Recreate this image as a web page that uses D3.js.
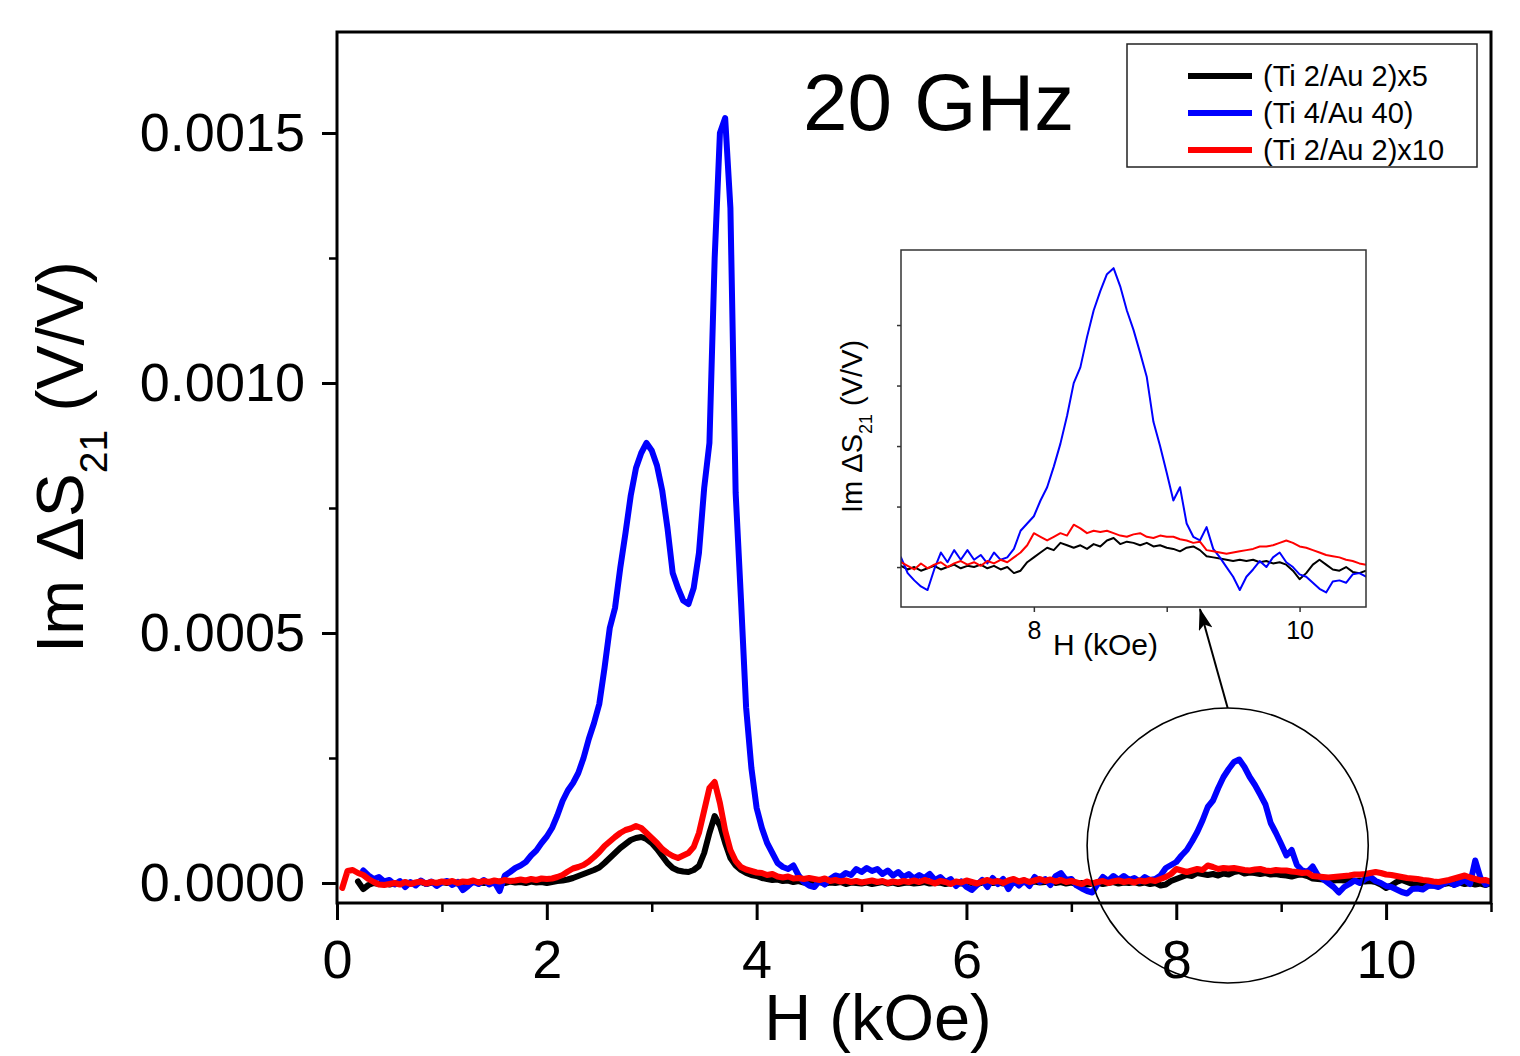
<!DOCTYPE html>
<html>
<head>
<meta charset="utf-8">
<script src="https://cdn.jsdelivr.net/npm/d3@7"></script>
<style>
  html, body { margin: 0; padding: 0; background: #fff; }
  svg { display: block; font-family: "Liberation Sans", Arial, sans-serif; }
</style>
</head>
<body>
<svg id="chart" width="1520" height="1056"></svg>
<script>
// field values (kOe)
const H = [
  0.05,0.1,0.15,0.2,0.25,0.3,0.35,0.4,0.45,0.5,
  0.55,0.6,0.65,0.7,0.75,0.8,0.85,0.9,0.95,1.0,
  1.05,1.1,1.15,1.2,1.25,1.3,1.35,1.4,1.45,1.5,
  1.55,1.6,1.65,1.7,1.75,1.8,1.85,1.9,1.95,2.0,
  2.05,2.1,2.15,2.2,2.25,2.3,2.35,2.4,2.45,2.5,
  2.55,2.6,2.65,2.7,2.75,2.8,2.85,2.9,2.95,3.0,
  3.05,3.1,3.15,3.2,3.25,3.3,3.35,3.4,3.45,3.5,
  3.55,3.6,3.65,3.7,3.75,3.8,3.85,3.9,3.95,4.0,
  4.05,4.1,4.15,4.2,4.25,4.3,4.35,4.4,4.45,4.5,
  4.55,4.6,4.65,4.7,4.75,4.8,4.85,4.9,4.95,5.0,
  5.05,5.1,5.15,5.2,5.25,5.3,5.35,5.4,5.45,5.5,
  5.55,5.6,5.65,5.7,5.75,5.8,5.85,5.9,5.95,6.0,
  6.05,6.1,6.15,6.2,6.25,6.3,6.35,6.4,6.45,6.5,
  6.55,6.6,6.65,6.7,6.75,6.8,6.85,6.9,6.95,7.0,
  7.05,7.1,7.15,7.2,7.25,7.3,7.35,7.4,7.45,7.5,
  7.55,7.6,7.65,7.7,7.75,7.8,7.85,7.9,7.95,8.0,
  8.05,8.1,8.15,8.2,8.25,8.3,8.35,8.4,8.45,8.5,
  8.55,8.6,8.65,8.7,8.75,8.8,8.85,8.9,8.95,9.0,
  9.05,9.1,9.15,9.2,9.25,9.3,9.35,9.4,9.45,9.5,
  9.55,9.6,9.65,9.7,9.75,9.8,9.85,9.9,9.95,10.0,
  10.05,10.1,10.15,10.2,10.25,10.3,10.35,10.4,10.45,10.5,
  10.55,10.6,10.65,10.7,10.75,10.8,10.85,10.9,10.95,11.0
];

// Im dS21 in units of 1e-5 V/V
const blackE5 = [
  null,null,null,0.3,-1.2,-0.4,0.0,-0.2,0.1,-0.3,
  0.0,-0.2,0.1,-0.1,0.0,0.2,-0.2,0.1,-0.1,0.2,
  0.0,0.2,-0.1,0.1,0.0,0.2,0.1,0.0,0.2,0.1,
  0.2,0.0,0.3,0.1,0.2,0.0,0.3,0.1,0.2,0.0,
  0.2,0.4,0.5,0.7,1.0,1.4,1.8,2.2,2.6,3.1,
  4.0,5.0,6.0,7.0,7.8,8.6,9.0,9.2,8.8,8.0,
  6.8,5.4,4.0,3.0,2.5,2.3,2.2,2.6,3.4,6.0,
  10.0,13.4,11.5,8.0,5.0,3.5,2.6,2.0,1.6,1.4,
  1.0,0.8,0.6,0.7,0.4,0.5,0.2,0.4,0.1,0.3,
  0.0,0.2,-0.1,0.1,0.0,0.2,-0.2,0.1,0.0,-0.1,
  0.1,-0.2,0.0,0.2,-0.1,0.1,-0.2,0.0,0.1,-0.1,
  0.0,0.2,-0.1,0.0,0.1,-0.2,0.0,0.1,-0.1,0.2,
  0.0,-0.2,0.1,0.2,0.0,0.1,-0.1,0.2,0.3,0.0,
  0.2,0.0,0.3,0.1,0.2,0.4,0.0,0.2,-0.1,0.1,
  -0.2,0.0,-0.3,-0.1,0.1,-0.2,0.0,0.2,-0.1,0.1,
  0.0,0.2,-0.1,0.1,-0.2,0.0,-0.5,-0.3,0.4,0.8,
  1.2,1.6,1.4,2.0,1.8,1.6,1.8,1.5,1.9,1.7,
  2.2,2.4,1.9,2.1,2.0,1.8,2.0,1.7,1.8,1.6,
  1.5,1.3,1.6,1.7,1.4,0.9,0.8,0.7,0.6,0.5,
  0.6,0.5,0.6,0.4,0.5,0.3,0.4,0.2,-0.3,-1.0,
  -0.5,0.2,0.6,0.2,-0.2,-0.3,0.0,-0.4,-0.5,-0.3,
  -0.2,0.0,-0.3,0.1,-0.2,0.0,-0.3,-0.1,-0.4,0.0
];

const blueE5 = [
  null,null,null,null,2.5,1.5,0.8,1.2,0.3,0.6,
  -0.3,0.4,-0.8,0.2,-0.5,0.5,-0.2,0.3,-0.6,0.1,
  0.4,-0.4,0.2,-1.4,-0.6,0.3,-0.2,0.6,-0.3,0.2,
  -1.6,1.5,2.2,3.0,3.5,4.2,5.5,6.5,8.0,9.3,
  11.0,13.5,16.4,18.5,20.0,22.0,25.0,28.8,32.0,35.8,
  43,51,55,63,70,77.5,83,86,88,86.5,
  83.5,78.5,71,62,59,56.5,55.8,59,66,79,
  88,125,150,153,135,78,57,35,23,15,
  11,8,6,4,3.2,2.8,3.5,1.5,0.2,-0.5,
  -0.8,0.5,-0.3,0.8,1.5,1.2,2.0,1.6,2.8,2.2,
  3.0,2.4,2.8,1.8,2.5,1.5,2.2,1.2,1.8,0.9,
  1.6,1.0,1.8,0.6,1.2,0.2,0.8,-0.6,0.3,-0.8,
  -1.4,-0.4,0.6,-0.8,1.0,-0.2,0.8,-1.2,0.4,-0.5,
  0.5,-0.6,1.2,0.2,0.8,-0.4,1.4,2.0,0.6,0.8,
  -0.5,-1.1,-1.6,-1.9,-0.2,1.2,0.4,1.4,0.6,1.4,
  0.6,1.0,0.3,1.2,0.6,0.8,1.5,3.0,3.6,4.2,
  5.5,6.6,8.3,10.2,12.5,15.2,16.5,19.0,21.2,22.8,
  24.2,24.7,23.2,21.2,19.6,17.7,15.7,12.0,10.0,7.8,
  5.5,6.6,3.6,2.5,2.2,3.3,1.5,0.8,0.0,-0.8,
  -1.9,-0.8,-0.2,0.5,0.0,0.8,1.2,0.4,0.0,-0.6,
  -0.8,-1.3,-1.8,-2.1,-1.2,-1.1,-1.3,-0.6,-0.5,-0.8,
  -0.2,0.4,-0.4,0.0,0.6,-0.2,4.5,1.0,-0.3,0.2
];

const redE5 = [
  -1.0,2.4,2.6,2.0,1.6,0.8,0.2,-0.3,-0.4,-0.2,
  0.0,-0.3,0.2,-0.2,0.1,0.3,-0.1,0.2,0.0,0.3,
  0.1,0.4,0.0,0.3,0.2,0.5,0.1,0.4,0.2,0.5,
  0.3,0.6,0.4,0.5,0.7,0.5,0.8,0.6,0.9,0.8,
  0.9,1.2,1.6,2.3,2.9,3.2,3.6,4.3,5.2,6.2,
  7.4,8.3,9.2,10.0,10.6,10.9,11.4,11.0,10.0,9.0,
  8.0,6.8,6.0,5.4,5.0,5.5,6.0,7.2,10.0,14.5,
  19.0,20.2,16.0,10.5,6.6,4.4,3.2,2.7,2.4,2.1,
  2.0,1.6,1.8,1.3,1.1,1.3,0.9,1.0,0.8,1.0,
  0.8,0.6,0.9,0.4,0.6,0.3,0.5,0.2,0.4,0.1,
  0.3,0.5,0.2,0.4,0.0,0.3,0.1,0.4,0.2,0.5,
  0.2,0.6,0.3,-0.1,0.4,0.2,-0.2,0.3,0.1,0.5,
  0.2,-0.1,0.3,0.6,0.2,0.4,0.0,0.5,0.8,0.3,
  0.6,0.2,0.5,0.8,0.4,0.7,0.3,0.6,0.2,0.4,
  0.1,-0.2,0.3,-0.1,0.2,0.4,0.0,0.3,0.5,0.2,
  0.4,0.1,0.5,0.3,0.6,0.4,0.8,1.2,1.8,2.8,
  2.5,2.2,2.5,2.8,2.6,3.5,3.2,2.8,3.0,2.9,
  3.0,2.8,2.6,2.5,2.7,2.8,2.5,2.4,2.6,2.5,
  2.5,2.3,2.2,2.0,2.1,1.4,1.3,1.2,1.1,1.2,
  1.3,1.4,1.5,1.7,1.7,1.8,2.0,2.2,2.0,1.7,
  1.6,1.4,1.2,1.0,0.9,0.8,0.6,0.5,0.3,0.2,
  0.4,0.6,0.9,1.2,1.5,1.1,0.8,0.5,0.6,0.2
];

const seriesNames = ["(Ti 2/Au 2)x5", "(Ti 4/Au 40)", "(Ti 2/Au 2)x10"];
const seriesColors = ["#000000", "#0000ff", "#ff0000"];
const xTicksMajor = [0, 2, 4, 6, 8, 10];
const xTicksMinor = [1, 3, 5, 7, 9, 11];
const yTicksMajor = [0, 0.0005, 0.0010, 0.0015];
const yTicksMinor = [0.00025, 0.00075, 0.00125];
const insetXTicks = [8, 9, 10];
const insetXLabels = [8, 10];
const insetYTicks = [0, 0.00005, 0.0001, 0.00015, 0.0002];
const E5 = 1e-5;

const svg = d3.select("#chart");
const font = "'Liberation Sans', Arial, sans-serif";

const table = H.map((h, i) => ({h: h, s: [blackE5[i], blueE5[i], redE5[i]]}));

const x = d3.scaleLinear().domain([0, 11]).range([337, 1491]);
const y = d3.scaleLinear().domain([-0.00004, 0.001702]).range([903, 32]);

const xi = d3.scaleLinear().domain([7, 10.5]).range([901, 1366]);
const yi = d3.scaleLinear().domain([-0.000033, 0.000262]).range([607, 250]);

function lineFor(xs, ys, k, lo, hi) {
    return d3.line()
        .defined(d => d.s[k] !== null && d.h >= lo && d.h <= hi)
        .x(d => xs(d.h))
        .y(d => ys(d.s[k] * E5));
}

function styleAxis(g, size) {
    g.select(".domain").remove();
    g.attr("font-family", font).attr("font-size", size);
    g.selectAll("text").attr("fill", "#000");
    g.selectAll("line").attr("stroke", "#000");
}

// clips and arrow marker
const defs = svg.append("defs");
defs.append("clipPath").attr("id", "mainClip")
    .append("rect").attr("x", 337).attr("y", 32).attr("width", 1154).attr("height", 871);
defs.append("clipPath").attr("id", "insetClip")
    .append("rect").attr("x", 901).attr("y", 250).attr("width", 465).attr("height", 357);
defs.append("marker").attr("id", "arrowHead")
    .attr("viewBox", "0 0 22 14").attr("refX", 21).attr("refY", 7)
    .attr("markerWidth", 22).attr("markerHeight", 14)
    .attr("markerUnits", "userSpaceOnUse").attr("orient", "auto")
    .append("path").attr("d", "M0,0 L22,7 L0,14 L5,7 Z").attr("fill", "#000");

// curves
svg.append("g").attr("clip-path", "url(#mainClip)")
    .selectAll("path")
    .data([0, 1, 2])
    .enter().append("path")
        .attr("d", k => lineFor(x, y, k, 0, 11)(table))
        .attr("fill", "none")
        .attr("stroke", k => seriesColors[k])
        .attr("stroke-width", 6)
        .attr("stroke-linejoin", "round")
        .attr("stroke-linecap", "round");

// x axis
svg.append("g")
    .attr("transform", "translate(0,903)")
    .call(d3.axisBottom(x).tickValues(xTicksMajor).tickSize(17).tickPadding(20).tickFormat(d3.format("d")))
    .call(g => styleAxis(g, 54))
    .call(g => g.selectAll("line").attr("stroke-width", 3));
svg.append("g")
    .attr("transform", "translate(0,903)")
    .call(d3.axisBottom(x).tickValues(xTicksMinor).tickSize(9).tickFormat(""))
    .call(g => styleAxis(g, 10))
    .call(g => g.selectAll("line").attr("stroke-width", 2.5));

// y axis
svg.append("g")
    .attr("transform", "translate(337,0)")
    .call(d3.axisLeft(y).tickValues(yTicksMajor).tickSize(15).tickPadding(17).tickFormat(d3.format(".4f")))
    .call(g => styleAxis(g, 54))
    .call(g => g.selectAll("line").attr("stroke-width", 3));
svg.append("g")
    .attr("transform", "translate(337,0)")
    .call(d3.axisLeft(y).tickValues(yTicksMinor).tickSize(8).tickFormat(""))
    .call(g => styleAxis(g, 10))
    .call(g => g.selectAll("line").attr("stroke-width", 2.5));

// frame
svg.append("rect")
    .attr("x", 337).attr("y", 32).attr("width", 1154).attr("height", 871)
    .attr("fill", "none").attr("stroke", "#000").attr("stroke-width", 3);

// axis titles
svg.append("text")
    .attr("x", 878).attr("y", 1040)
    .attr("text-anchor", "middle")
    .attr("font-family", font).attr("font-size", 65)
    .text("H (kOe)");

const yTitle = svg.append("text")
    .attr("transform", "translate(83,653) rotate(-90)")
    .attr("font-family", font).attr("font-size", 66);
yTitle.append("tspan").text("Im \u0394S");
yTitle.append("tspan").attr("font-size", 39).attr("dy", 24).text("21");
yTitle.append("tspan").attr("dy", -24).text(" (V/V)");

// frequency label
svg.append("text")
    .attr("x", 803).attr("y", 130)
    .attr("font-family", font).attr("font-size", 80)
    .text("20 GHz");

// legend
const legend = svg.append("g");
legend.append("rect")
    .attr("x", 1127).attr("y", 44).attr("width", 350).attr("height", 123)
    .attr("fill", "#fff").attr("stroke", "#222").attr("stroke-width", 1.5);
const items = legend.selectAll("g.item")
    .data(seriesNames)
    .enter().append("g")
        .attr("class", "item")
        .attr("transform", (d, i) => `translate(0, ${76 + i * 37})`);
items.append("line")
    .attr("x1", 1188).attr("x2", 1252)
    .attr("stroke", (d, i) => seriesColors[i])
    .attr("stroke-width", 6);
items.append("text")
    .attr("x", 1263).attr("y", 10)
    .attr("font-family", font).attr("font-size", 29)
    .text(d => d);

// inset
const inset = svg.append("g");
inset.append("rect")
    .attr("x", 901).attr("y", 250).attr("width", 465).attr("height", 357)
    .attr("fill", "#fff");
inset.append("g").attr("clip-path", "url(#insetClip)")
    .selectAll("path")
    .data([0, 1, 2])
    .enter().append("path")
        .attr("d", k => lineFor(xi, yi, k, 6.95, 10.55)(table))
        .attr("fill", "none")
        .attr("stroke", k => seriesColors[k])
        .attr("stroke-width", 2)
        .attr("stroke-linejoin", "round");
inset.append("g")
    .attr("transform", "translate(0,607)")
    .call(d3.axisBottom(xi).tickValues(insetXTicks).tickSize(5).tickPadding(9)
        .tickFormat(d => insetXLabels.includes(d) ? d : ""))
    .call(g => styleAxis(g, 25))
    .call(g => g.selectAll("line").attr("stroke", "#333").attr("stroke-width", 1.5));
inset.append("g")
    .attr("transform", "translate(901,0)")
    .call(d3.axisLeft(yi).tickValues(insetYTicks).tickSize(4).tickFormat(""))
    .call(g => styleAxis(g, 10))
    .call(g => g.selectAll("line").attr("stroke", "#333").attr("stroke-width", 1.5));
inset.append("rect")
    .attr("x", 901).attr("y", 250).attr("width", 465).attr("height", 357)
    .attr("fill", "none").attr("stroke", "#333").attr("stroke-width", 1.5);
inset.append("text")
    .attr("x", 1053).attr("y", 655)
    .attr("font-family", font).attr("font-size", 30)
    .text("H (kOe)");
const iTitle = inset.append("text")
    .attr("transform", "translate(862,513) rotate(-90)")
    .attr("font-family", font).attr("font-size", 29);
iTitle.append("tspan").text("Im \u0394S");
iTitle.append("tspan").attr("font-size", 18).attr("dy", 10).text("21");
iTitle.append("tspan").attr("dy", -10).text(" (V/V)");

// zoom ring and arrow
const ring = {h: 8.49, v: 0.000075, rh: 1.34, rv: 0.000275};
svg.append("ellipse")
    .attr("cx", x(ring.h)).attr("cy", y(ring.v))
    .attr("rx", x(ring.h + ring.rh) - x(ring.h))
    .attr("ry", y(ring.v) - y(ring.v + ring.rv))
    .attr("fill", "none").attr("stroke", "#000").attr("stroke-width", 1.6);
svg.append("line")
    .attr("x1", x(ring.h)).attr("y1", y(ring.v + ring.rv))
    .attr("x2", xi(9.25)).attr("y2", yi.range()[0] + 2)
    .attr("stroke", "#000").attr("stroke-width", 2)
    .attr("marker-end", "url(#arrowHead)");
</script>
</body>
</html>
